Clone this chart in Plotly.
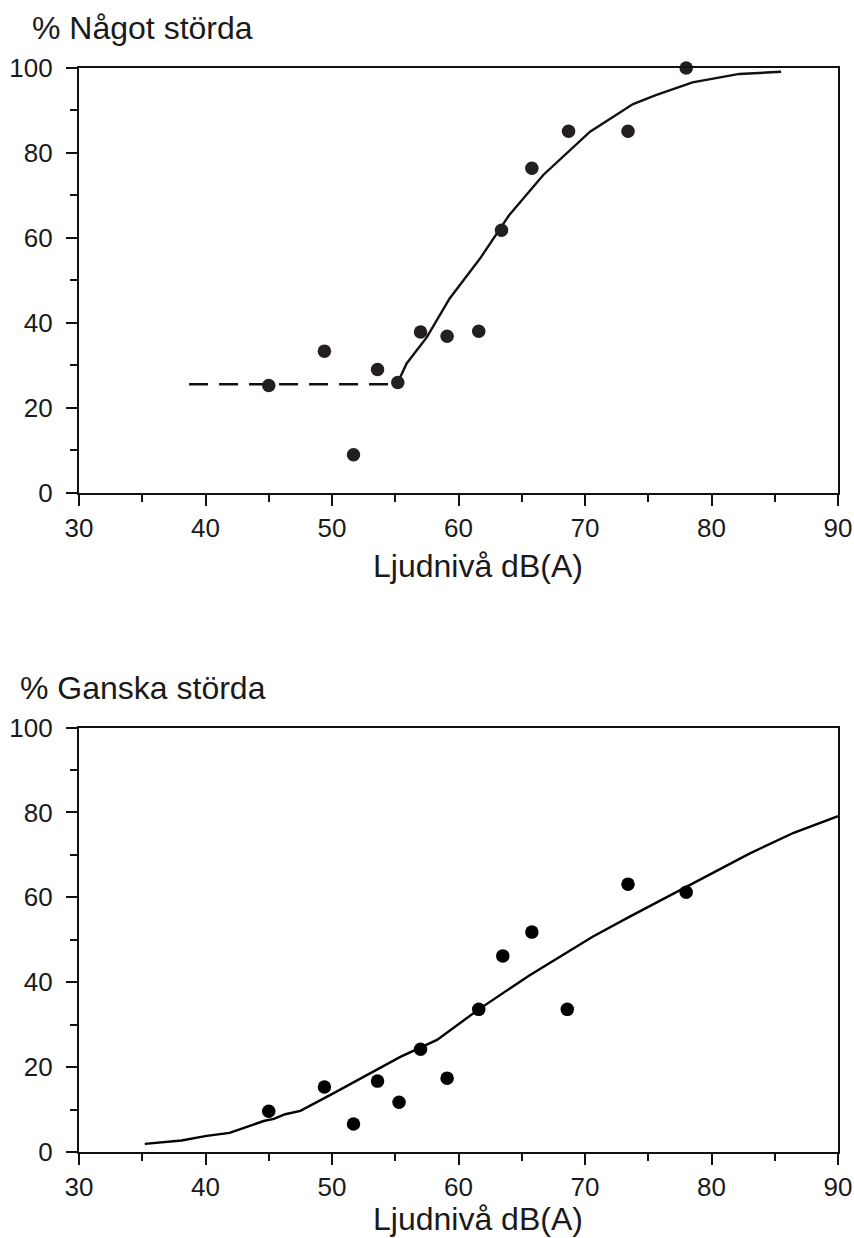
import plotly.graph_objects as go
from plotly.subplots import make_subplots

# Top panel: "% Något störda"
top_x = [45.0, 49.4, 51.7, 53.6, 55.2, 57.0, 59.1, 61.6, 63.4, 65.8, 68.7, 73.4, 78.0]
top_y = [25.2, 33.3, 8.9, 29.0, 25.9, 37.8, 36.8, 38.0, 61.8, 76.4, 85.1, 85.1, 100.0]
top_curve_x = [55.2, 55.9, 57.5, 59.3, 61.7, 64.0, 66.7, 70.4, 73.8, 75.6, 78.5, 82.2, 85.5]
top_curve_y = [25.9, 30.4, 36.6, 45.7, 55.1, 65.3, 74.8, 85.0, 91.5, 93.6, 96.6, 98.6, 99.1]
top_dash_x = [38.7, 55.2]
top_dash_y = [25.5, 25.5]

# Bottom panel: "% Ganska störda"
bot_x = [45.0, 49.4, 51.7, 53.6, 55.3, 57.0, 59.1, 61.6, 63.5, 65.8, 68.6, 73.4, 78.0]
bot_y = [9.6, 15.3, 6.6, 16.7, 11.7, 24.2, 17.4, 33.6, 46.2, 51.8, 33.6, 63.1, 61.2]
bot_curve_x = [35.2, 38.1, 40.1, 41.9, 44.6, 45.4, 46.3, 47.5, 50.1, 52.7, 55.4, 58.3,
               61.6, 65.6, 70.6, 73.5, 78.0, 83.0, 86.5, 90.0]
bot_curve_y = [1.9, 2.7, 3.8, 4.5, 7.3, 7.8, 8.9, 9.7, 13.8, 18.1, 22.4, 26.4,
               33.6, 41.6, 50.7, 55.4, 62.4, 70.3, 75.2, 79.1]

titles = ["% Något störda", "% Ganska störda"]
x_title = "Ljudnivå dB(A)"
x_ticks = [30, 40, 50, 60, 70, 80, 90]
y_ticks = [0, 20, 40, 60, 80, 100]

FONT = "Liberation Sans, Arial, sans-serif"
TXT = "#1a1a1a"

W, H = 854, 1238
ML, MT = 79, 68
MR = W - 838
MB = H - 1152
plot_w = W - ML - MR
plot_h = H - MT - MB


def px_x(p):
    return (p - ML) / plot_w


def px_y(p):
    return 1 - (p - MT) / plot_h


fig = make_subplots(rows=2, cols=1, vertical_spacing=(727 - 492) / plot_h)

fig.add_trace(go.Scatter(x=top_dash_x, y=top_dash_y, mode="lines",
                         line=dict(color="#111111", width=2.4, dash="19px,11px"),
                         showlegend=False), row=1, col=1)
fig.add_trace(go.Scatter(x=top_curve_x, y=top_curve_y, mode="lines",
                         line=dict(color="#111111", width=2.4), showlegend=False), row=1, col=1)
fig.add_trace(go.Scatter(x=top_x, y=top_y, mode="markers", cliponaxis=False,
                         marker=dict(color="#231f20", size=13.5), showlegend=False), row=1, col=1)

fig.add_trace(go.Scatter(x=bot_curve_x, y=bot_curve_y, mode="lines", cliponaxis=False,
                         line=dict(color="#000000", width=2.4), showlegend=False), row=2, col=1)
fig.add_trace(go.Scatter(x=bot_x, y=bot_y, mode="markers", cliponaxis=False,
                         marker=dict(color="#000000", size=13.5), showlegend=False), row=2, col=1)

for r in (1, 2):
    fig.update_xaxes(range=[30, 90], tickvals=x_ticks, ticks="outside", ticklen=11, tickwidth=2,
                     tickcolor="#111", showline=True, linecolor="#111", linewidth=2.2, mirror=True,
                     showgrid=False, zeroline=False, automargin=False,
                     minor=dict(dtick=5, tick0=30, ticks="outside", ticklen=7, tickwidth=2, tickcolor="#111"),
                     tickfont=dict(family=FONT, size=26, color=TXT),
                     ticklabelstandoff=0,
                     row=r, col=1)
    fig.update_yaxes(range=[0, 100], tickvals=y_ticks, ticks="outside", ticklen=11, tickwidth=2,
                     tickcolor="#111", showline=True, linecolor="#111", linewidth=2.2, mirror=True,
                     showgrid=False, zeroline=False, automargin=False,
                     minor=dict(dtick=10, tick0=0, ticks="outside", ticklen=7, tickwidth=2, tickcolor="#111"),
                     tickfont=dict(family=FONT, size=26, color=TXT),
                     ticklabelstandoff=8,
                     row=r, col=1)

ann = []
ann.append(dict(text=titles[0], x=px_x(30), xref="paper", xanchor="left",
                y=px_y(28), yref="paper", yanchor="middle", showarrow=False,
                font=dict(family=FONT, size=32, color=TXT)))
ann.append(dict(text=titles[1], x=px_x(18), xref="paper", xanchor="left",
                y=px_y(688), yref="paper", yanchor="middle", showarrow=False,
                font=dict(family=FONT, size=32, color=TXT)))
for yc in (566, 1219):
    ann.append(dict(text=x_title, x=px_x(478), xref="paper", xanchor="center",
                    y=px_y(yc), yref="paper", yanchor="middle", showarrow=False,
                    font=dict(family=FONT, size=32, color=TXT)))

fig.update_layout(
    width=W, height=H,
    margin=dict(l=ML, r=MR, t=MT, b=MB),
    plot_bgcolor="white", paper_bgcolor="white",
    font=dict(family=FONT, color=TXT),
    annotations=ann,
)

fig.write_html("out.html", config={"displayModeBar": False},
               post_script="document.body.style.margin='0';document.body.style.padding='0';")
